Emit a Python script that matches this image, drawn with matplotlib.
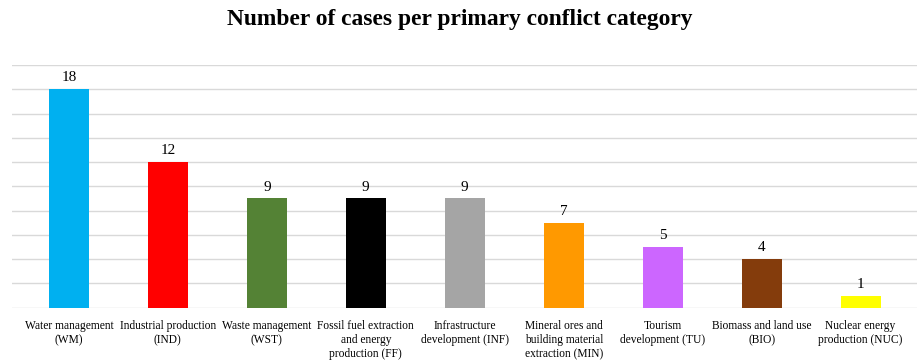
import matplotlib.pyplot as plt
import numpy as np

# Datos del grafico
categorias = [
    "Water management\n(WM)",
    "Industrial production\n(IND)",
    "Waste management\n(WST)",
    "Fossil fuel extraction\nand energy\nproduction (FF)",
    "Infrastructure\ndevelopment (INF)",
    "Mineral ores and\nbuilding material\nextraction (MIN)",
    "Tourism\ndevelopment (TU)",
    "Biomass and land use\n(BIO)",
    "Nuclear energy\nproduction (NUC)",
]
casos = [18, 12, 9, 9, 9, 7, 5, 4, 1]
colores = ["#00B0F0", "#FF0000", "#548235", "#000000", "#A5A5A5",
           "#FF9900", "#CC66FF", "#843C0C", "#FFFF00"]

plt.rcParams['font.family'] = ['Liberation Serif', 'DejaVu Serif']

fig = plt.figure(figsize=(9.19, 3.62), dpi=100)
ax = fig.add_axes([12 / 919, 0.15, 905 / 919, 0.6704])

x = np.arange(len(casos))
barras = ax.bar(x, casos, width=0.404, color=colores, zorder=3)

for xi, v in zip(x, casos):
    ax.annotate(str(v), (xi, v), xytext=(0, 3.5), textcoords='offset points',
                ha='center', va='bottom', fontsize=11)

ax.set_ylim(0, 20)
ax.set_xlim(-0.575, 8.57)
ax.set_yticks(np.arange(0, 21, 2))
ax.set_yticklabels([])
ax.tick_params(axis='y', length=0)
ax.tick_params(axis='x', length=0, pad=9)
ax.set_xticks(x)
ax.set_xticklabels(categorias, fontsize=8.3, linespacing=1.22)
ax.grid(axis='y', color='#D9D9D9', linewidth=1, zorder=0)
for s in ax.spines.values():
    s.set_visible(False)

fig.suptitle("Number of cases per primary conflict category", fontsize=16.9,
             fontweight='bold', x=0.5, y=0.975, va='top')

fig.savefig("out.png", dpi=100)
